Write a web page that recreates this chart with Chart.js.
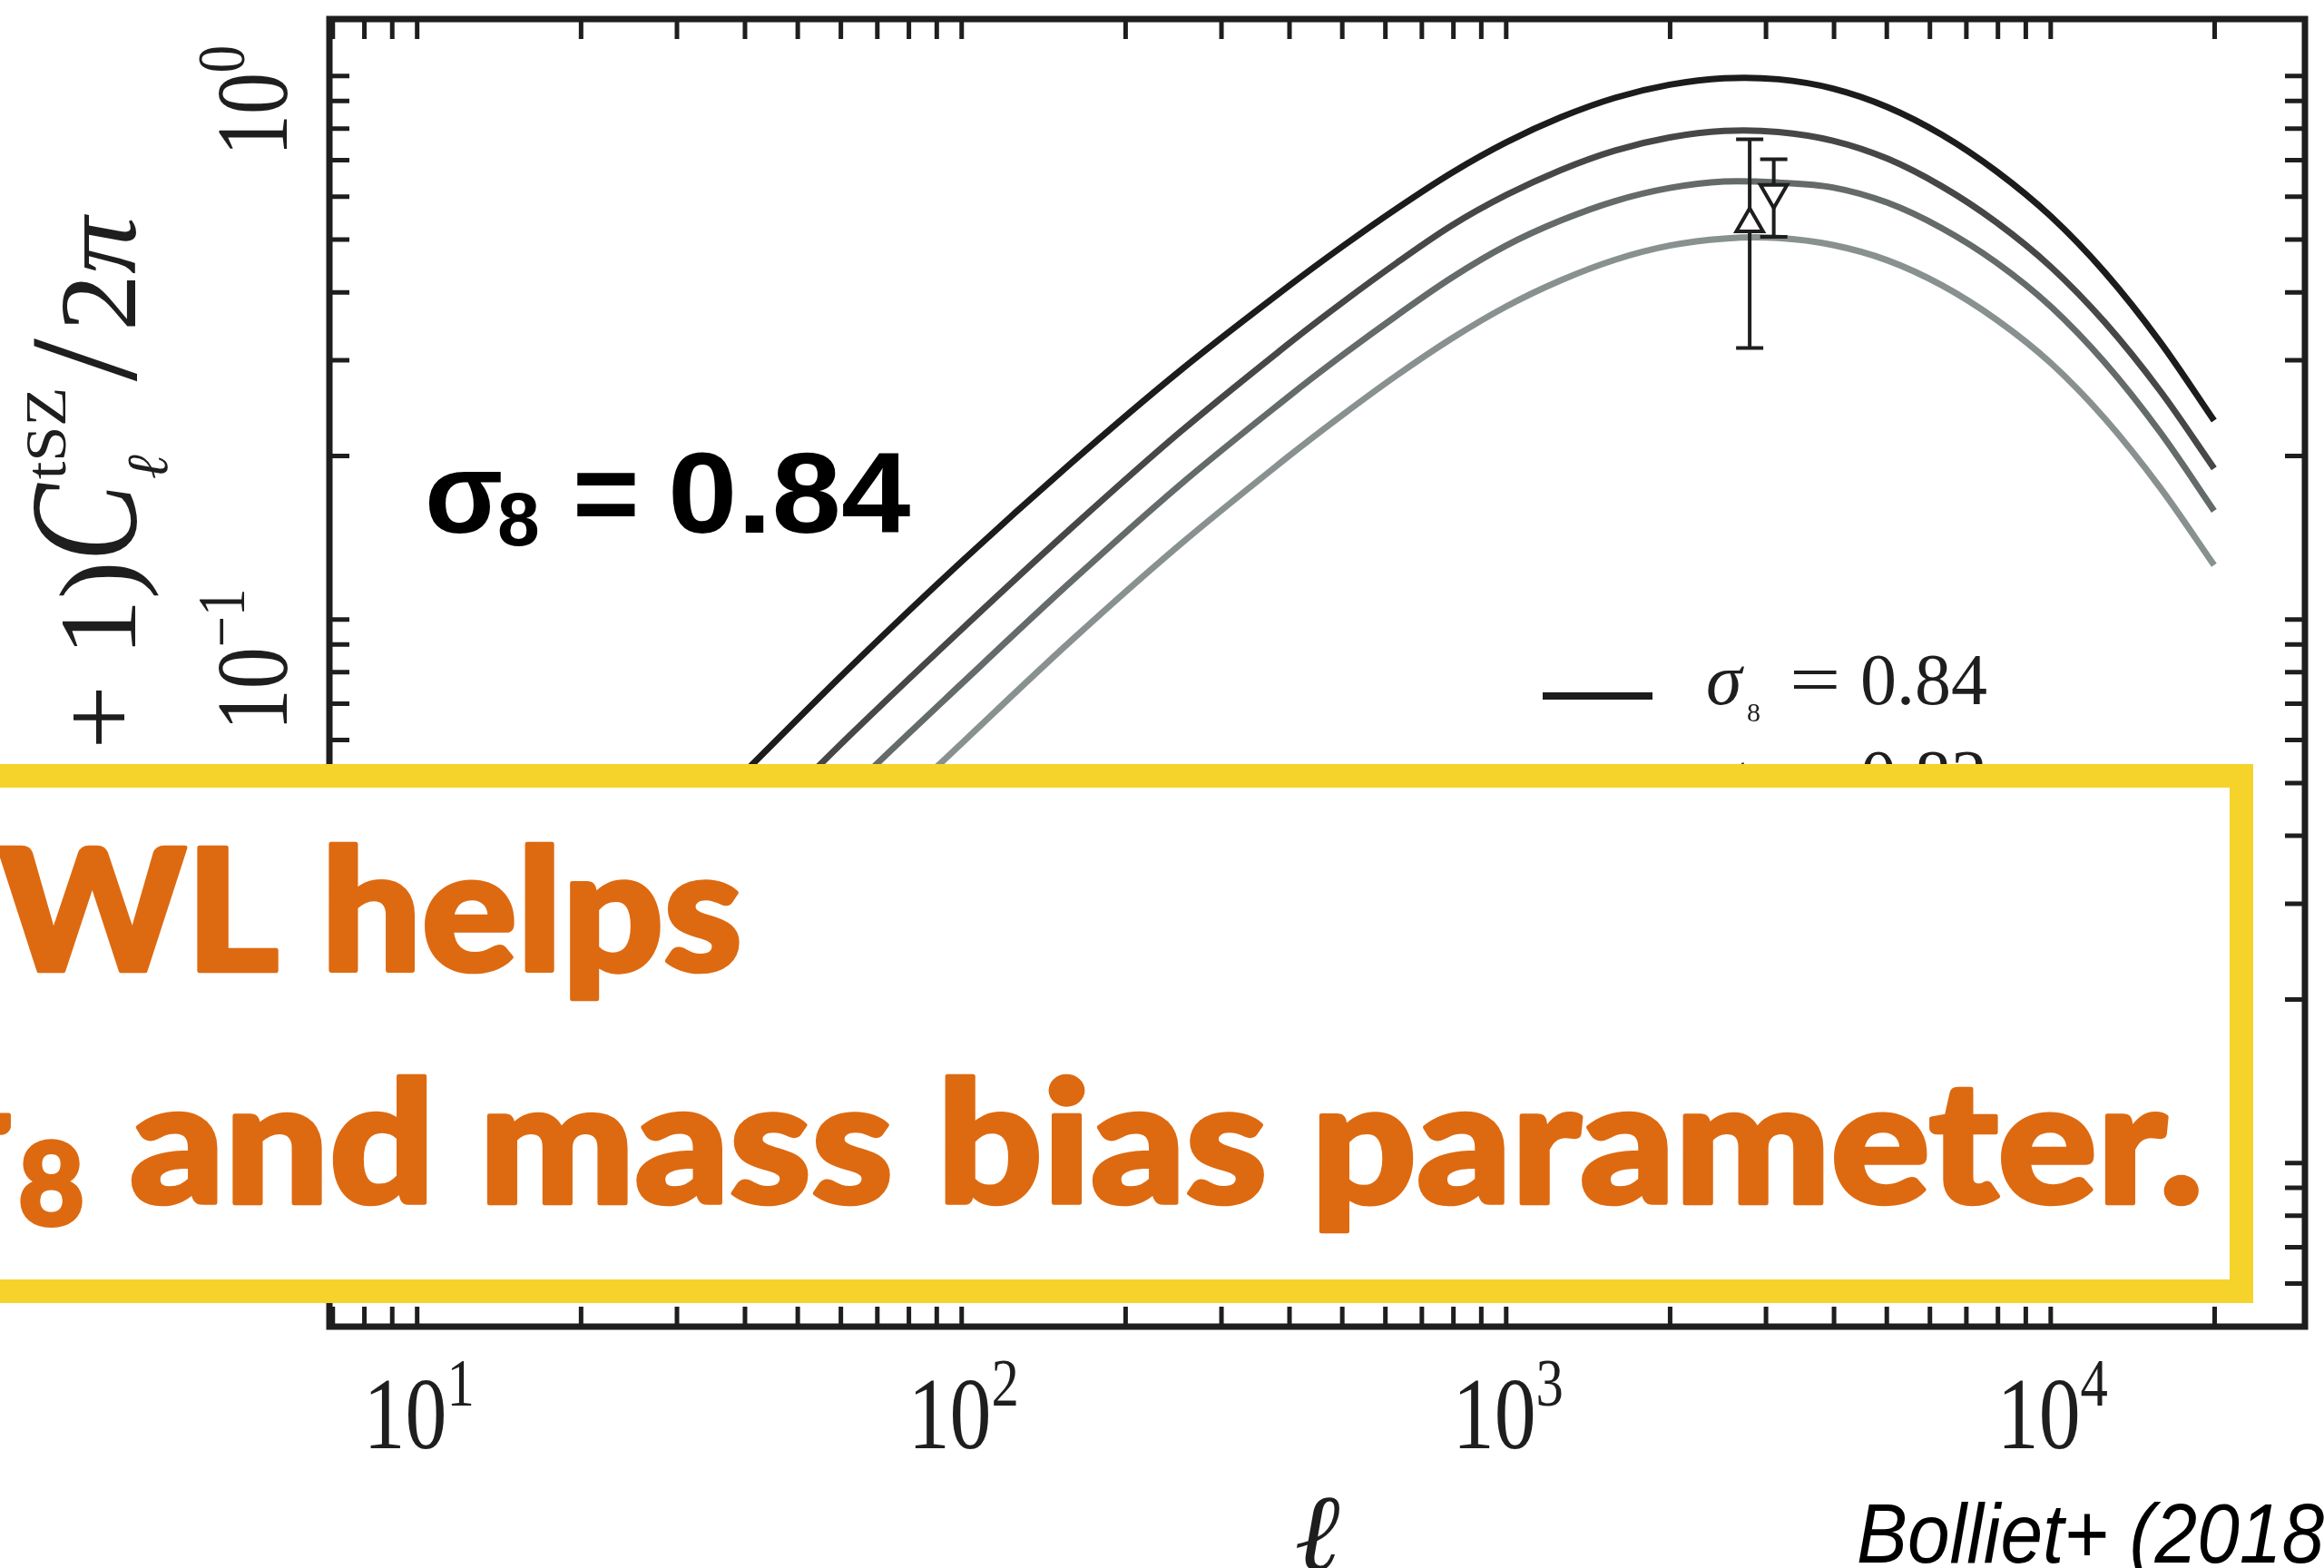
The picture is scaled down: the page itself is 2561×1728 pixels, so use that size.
<!DOCTYPE html>
<html>
<head>
<meta charset="utf-8">
<script src="https://cdn.jsdelivr.net/npm/chart.js@4.4.1/dist/chart.umd.min.js"></script>
<style>
  html, body { margin: 0; padding: 0; background: #fff; }
  canvas { display: block; }
</style>
</head>
<body>
<canvas id="tszChart" width="2561" height="1728"></canvas>
<script>
// ========= Data =========
// multipoles read on an even log grid
const multipoles = [10, 15.85, 25.12, 39.81, 63.1, 100, 158.5, 251.2, 398.1, 501.2, 631.0, 794.3, 1000, 1259, 1585, 1995, 2512, 3162, 3981, 5012, 6310, 7943, 10000, 12589, 15849, 19953];
const sigma8Labels = ['0.84', '0.82', '0.80', '0.78'];
const cl084 = [0.01309, 0.02075, 0.03289, 0.05224, 0.0826, 0.1279, 0.1936, 0.2864, 0.4102, 0.4864, 0.5715, 0.6637, 0.7551, 0.8395, 0.9120, 0.9638, 0.9908, 0.9863, 0.9484, 0.8770, 0.7798, 0.6683, 0.5521, 0.4345, 0.3251, 0.2323];
const cl082 = [0.00982, 0.01556, 0.02466, 0.03918, 0.06194, 0.09594, 0.1469, 0.2208, 0.3214, 0.3837, 0.4539, 0.5309, 0.6039, 0.6714, 0.7295, 0.7709, 0.7925, 0.7889, 0.7603, 0.7047, 0.6266, 0.5383, 0.4457, 0.3516, 0.2642, 0.1897];
const cl080 = [0.0078, 0.01236, 0.01959, 0.03112, 0.0492, 0.07621, 0.1172, 0.1766, 0.2570, 0.3069, 0.3631, 0.4256, 0.4875, 0.5420, 0.5888, 0.6223, 0.6397, 0.6368, 0.6237, 0.5848, 0.5248, 0.4539, 0.3767, 0.2965, 0.2218, 0.1585];
const cl078 = [0.00605, 0.00959, 0.01521, 0.02416, 0.03819, 0.05916, 0.0912, 0.1371, 0.1995, 0.2382, 0.2818, 0.3289, 0.3767, 0.4207, 0.4592, 0.4875, 0.5023, 0.5035, 0.4887, 0.4581, 0.4121, 0.3565, 0.2965, 0.2339, 0.1754, 0.1259];
const lineColors = ['#1c1c1c', '#474747', '#646b6a', '#889190'];

// measured points (triangles + error bars)
const obsEll = [2800, 3100];
const obsVal = [0.535, 0.610];
const obsLow = [0.316, 0.506];
const obsHigh = [0.765, 0.703];
const obsRotation = [0, 180];

// ========= Axes =========
const xMin = 6.9, xMax = 29300;
const yMin = 0.005, yMax = 1.273;
const xMajorTicks = [10, 100, 1000, 10000];
const xTickLabels = ['1', '2', '3', '4'];
const yMajorTicks = [1, 0.1, 0.01];
const yTickLabels = ['0', '\u22121', '\u22122'];

const SERIF = '"Liberation Serif", "DejaVu Serif", serif';
const INK = '#1e1e1e';

function logTicks(min, max) {
  const out = [];
  for (let e = Math.floor(Math.log10(min)); e <= Math.ceil(Math.log10(max)); e++) {
    for (let m = 1; m <= 9; m++) {
      const v = m * Math.pow(10, e);
      if (v > min && v < max) out.push(v);
    }
  }
  return out;
}

// draw a run of text pieces from (u, v), returns end u
function drawRun(ctx, pieces, u, v) {
  v = v || 0;
  pieces.forEach(p => {
    ctx.font = p.font;
    const w = p.adv !== undefined ? p.adv : ctx.measureText(p.text).width * (p.sx || 1);
    ctx.save();
    ctx.translate(u, v + (p.dy || 0));
    ctx.scale(p.sx || 1, 1);
    ctx.fillText(p.text, 0, 0);
    ctx.restore();
    u += w + (p.gap || 0);
  });
  return u;
}
function runWidth(ctx, pieces) {
  let u = 0;
  pieces.forEach(p => {
    ctx.font = p.font;
    const w = p.adv !== undefined ? p.adv : ctx.measureText(p.text).width * (p.sx || 1);
    u += w + (p.gap || 0);
  });
  return u;
}
function powPieces(exp) {
  return [
    { text: '10', font: '112px ' + SERIF, sx: 0.82 },
    { text: exp, font: '74px ' + SERIF, sx: 0.82, dy: -47 }
  ];
}
// heavy text: fill + stroke in the same colour
function heavyText(ctx, str, x, y, sx, stroke) {
  ctx.save();
  ctx.translate(x, y);
  ctx.scale(sx, 1);
  ctx.lineWidth = stroke / sx;
  ctx.lineJoin = 'round';
  ctx.fillText(str, 0, 0);
  ctx.strokeText(str, 0, 0);
  ctx.restore();
}

// ========= Plugin: frame, ticks, labels, overlay =========
const decorPlugin = {
  id: 'decor',
  beforeDatasetDraw(chart, args) {
    const ds = chart.data.datasets[args.index];
    if (ds.obsIndex === undefined) return;
    const i = ds.obsIndex;
    const { ctx, scales: { x, y } } = chart;
    const px = x.getPixelForValue(obsEll[i]);
    const yt = y.getPixelForValue(obsHigh[i]);
    const yb = y.getPixelForValue(obsLow[i]);
    ctx.save();
    ctx.strokeStyle = INK;
    ctx.lineWidth = 4;
    ctx.beginPath();
    ctx.moveTo(px, yt); ctx.lineTo(px, yb);
    ctx.moveTo(px - 15, yt); ctx.lineTo(px + 15, yt);
    ctx.moveTo(px - 15, yb); ctx.lineTo(px + 15, yb);
    ctx.stroke();
    ctx.restore();
  },
  afterDraw(chart) {
    const { ctx, chartArea: a, scales: { x, y } } = chart;
    ctx.save();
    ctx.fillStyle = INK;
    ctx.strokeStyle = INK;
    ctx.textBaseline = 'alphabetic';
    ctx.textAlign = 'left';

    // ticks on all four sides
    ctx.lineWidth = 5;
    ctx.beginPath();
    logTicks(xMin, xMax).forEach(v => {
      const px = x.getPixelForValue(v);
      ctx.moveTo(px, a.bottom); ctx.lineTo(px, a.bottom - 22);
      ctx.moveTo(px, a.top); ctx.lineTo(px, a.top + 22);
    });
    logTicks(yMin, yMax).forEach(v => {
      const py = y.getPixelForValue(v);
      ctx.moveTo(a.left, py); ctx.lineTo(a.left + 22, py);
      ctx.moveTo(a.right, py); ctx.lineTo(a.right - 22, py);
    });
    ctx.stroke();
    ctx.lineWidth = 7;
    ctx.strokeRect(a.left, a.top, a.right - a.left, a.bottom - a.top);

    // x tick labels
    xMajorTicks.forEach((v, i) => {
      const pcs = powPieces(xTickLabels[i]);
      const w = runWidth(ctx, pcs);
      drawRun(ctx, pcs, x.getPixelForValue(v) - w / 2 + 2, 1596);
    });

    // y tick labels (rotated)
    yMajorTicks.forEach((v, i) => {
      const pcs = powPieces(yTickLabels[i]);
      const w = runWidth(ctx, pcs);
      ctx.save();
      ctx.translate(316, y.getPixelForValue(v) - 34);
      ctx.rotate(-Math.PI / 2);
      drawRun(ctx, pcs, -w, 0);
      ctx.restore();
    });

    // y axis title (rotated)
    const title = [
      { text: '\u2113(\u2113 + 1)', font: '120px ' + SERIF, sx: 1.05, gap: 0 },
      { text: 'C', font: 'italic 170px ' + SERIF, sx: 0.75, gap: 5 },
      { text: 'tSZ', font: '64px ' + SERIF, sx: 1.1, dy: -77, adv: 0 },
      { text: '\u2113', font: 'italic 64px ' + SERIF, sx: 1.0, dy: 35, adv: 96, gap: 12 },
      { text: '/', font: '170px ' + SERIF, sx: 1.0, gap: 8 },
      { text: '2', font: '120px ' + SERIF, sx: 1.05 },
      { text: '\u03c0', font: 'italic 120px ' + SERIF, sx: 1.05 }
    ];
    const tw = runWidth(ctx, title);
    ctx.save();
    ctx.translate(149, 239);
    ctx.rotate(-Math.PI / 2);
    drawRun(ctx, title, -tw, 0);
    ctx.restore();

    // x axis title
    ctx.font = 'italic 120px ' + SERIF;
    ctx.textAlign = 'center';
    ctx.fillText('\u2113', (a.left + a.right) / 2, 1730);
    ctx.textAlign = 'left';

    // legend
    chart.data.datasets.forEach((ds, i) => {
      if (ds.obsIndex !== undefined) return;
      const by = 776 + i * 106;
      ctx.strokeStyle = ds.borderColor;
      ctx.lineWidth = 8;
      ctx.beginPath();
      ctx.moveTo(1700, by - 9); ctx.lineTo(1821, by - 9);
      ctx.stroke();
      ctx.fillStyle = INK;
      drawRun(ctx, [{ text: '\u03c3', font: 'italic 80px ' + SERIF }], 1880, by);
      drawRun(ctx, [{ text: '8', font: '30px ' + SERIF }], 1925, by + 19);
      drawRun(ctx, [{ text: '=', font: '80px ' + SERIF, sx: 1.25 }], 1972, by);
      drawRun(ctx, [{ text: sigma8Labels[i], font: '80px ' + SERIF }], 2050, by);
    });

    // big annotation
    ctx.fillStyle = '#000';
    const SB = '"Liberation Sans", Arial, sans-serif';
    drawRun(ctx, [{ text: '\u03c3', font: 'bold 126px ' + SB }], 468, 587);
    drawRun(ctx, [{ text: '8', font: 'bold 84px ' + SB }], 548, 601);
    drawRun(ctx, [{ text: '=', font: 'bold 126px ' + SB }], 631, 587);
    drawRun(ctx, [{ text: '0.84', font: 'bold 126px ' + SB, sx: 1.09 }], 736, 587);

    // highlighted box
    ctx.fillStyle = '#f5d32a';
    ctx.fillRect(-40, 842, 2483 + 40, 1436 - 842);
    ctx.fillStyle = '#fff';
    ctx.fillRect(-40, 868, 2457 + 40, 1410 - 868);

    const ORANGE = '#dd6a11';
    const LB = 'Lato, "Open Sans", sans-serif';
    ctx.fillStyle = ORANGE;
    ctx.strokeStyle = ORANGE;
    ctx.font = '900 186px ' + LB;
    const w1 = ctx.measureText('WL helps').width;
    heavyText(ctx, 'WL helps', -2, 1070, 820 / w1, 5);
    ctx.textAlign = 'right';
    heavyText(ctx, '\u03c3', 8, 1326, 1, 5);
    ctx.textAlign = 'left';
    ctx.font = '900 126px ' + LB;
    heavyText(ctx, '8', 20, 1350, 1, 4);
    ctx.font = '900 186px ' + LB;
    const line2 = 'and mass bias parameter.';
    const w2 = ctx.measureText(line2).width;
    heavyText(ctx, line2, 143, 1326, 2285 / w2, 5);

    // credit
    ctx.fillStyle = '#000';
    ctx.font = 'italic 92px "Liberation Sans", Arial, sans-serif';
    const wc = ctx.measureText('Bolliet+ (2018').width;
    ctx.save(); ctx.translate(2046, 1722); ctx.scale(515 / wc, 1); ctx.fillText('Bolliet+ (2018)', 0, 0); ctx.restore();

    ctx.restore();
  }
};

// ========= Chart =========
const curves = [cl084, cl082, cl080, cl078];
const datasets = curves.map((vals, i) => ({
  label: '\u03c38 = ' + sigma8Labels[i],
  data: multipoles.map((l, k) => ({ x: l, y: vals[k] })),
  borderColor: lineColors[i],
  borderWidth: 7,
  pointRadius: 0,
  fill: false,
  tension: 0.35,
  order: 1
}));
obsEll.forEach((l, i) => {
  datasets.push({
    label: 'obs' + i,
    obsIndex: i,
    data: [{ x: l, y: obsVal[i] }],
    showLine: false,
    pointStyle: 'triangle',
    rotation: obsRotation[i],
    pointRadius: 17,
    borderWidth: 4,
    borderColor: INK,
    backgroundColor: '#fff',
    order: 0
  });
});

const ctx = document.getElementById('tszChart').getContext('2d');
new Chart(ctx, {
  type: 'line',
  data: { datasets },
  options: {
    responsive: false,
    animation: false,
    devicePixelRatio: 1,
    layout: { padding: { left: 363, right: 2561 - 2544, top: 16, bottom: 1728 - 1462 } },
    plugins: { legend: { display: false }, tooltip: { enabled: false } },
    scales: {
      x: { type: 'logarithmic', min: xMin, max: xMax, display: false },
      y: { type: 'logarithmic', min: yMin, max: yMax, display: false }
    }
  },
  plugins: [decorPlugin]
});
</script>
</body>
</html>
